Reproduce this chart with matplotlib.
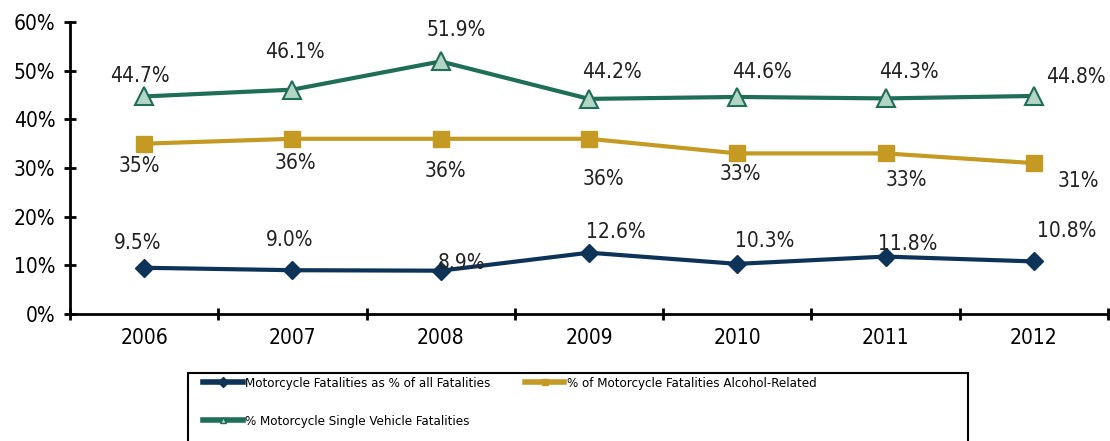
import numpy as np
import matplotlib
matplotlib.use("Agg")
import matplotlib.pyplot as plt
from matplotlib.patches import Rectangle
from matplotlib.lines import Line2D

years = ["2006", "2007", "2008", "2009", "2010", "2011", "2012"]
share_all = [9.5, 9.0, 8.9, 12.6, 10.3, 11.8, 10.8]
alcohol = [35, 36, 36, 36, 33, 33, 31]
single_vehicle = [44.7, 46.1, 51.9, 44.2, 44.6, 44.3, 44.8]

share_labels = ["9.5%", "9.0%", "8.9%", "12.6%", "10.3%", "11.8%", "10.8%"]
alcohol_labels = ["35%", "36%", "36%", "36%", "33%", "33%", "31%"]
single_labels = ["44.7%", "46.1%", "51.9%", "44.2%", "44.6%", "44.3%", "44.8%"]

# label offsets in pixels (dx, dy), dy positive = up
share_off = [(-7, 25), (-3, 30), (21, 8), (27, 21), (27, 23), (22, 13), (33, 30)]
alcohol_off = [(-5, -22), (3, -24), (5, -32), (14, -40), (3, -21), (21, -27), (45, -18)]
single_off = [(-4, 20), (2, 38), (16, 31), (23, 27), (25, 25), (23, 26), (42, 19)]

plt.rcParams["font.family"] = ["DejaVu Sans"]
plt.rcParams["font.stretch"] = "condensed"

navy = "#0D3458"
gold = "#C49A22"
green = "#1F6E58"
tri_fill = "#B3D5C6"

fig = plt.figure(figsize=(11.1, 4.41), dpi=100)
ax = fig.add_axes([70 / 1110, 1 - 314 / 441, (1108 - 70) / 1110, (314 - 22) / 441])

x = np.arange(len(years))

ax.plot(x, share_all, color=navy, lw=3, marker="D", ms=9, mfc=navy, mec=navy,
        label="Motorcycle Fatalities as % of all Fatalities")
ax.plot(x, alcohol, color=gold, lw=3, marker="s", ms=12, mfc=gold, mec=gold,
        label="% of Motorcycle Fatalities Alcohol-Related")
ax.plot(x, single_vehicle, color=green, lw=3, marker="^", ms=13, mfc=tri_fill,
        mec=green, mew=1.5, label="% Motorcycle Single Vehicle Fatalities")

for vals, labs, offs in [(share_all, share_labels, share_off),
                         (alcohol, alcohol_labels, alcohol_off),
                         (single_vehicle, single_labels, single_off)]:
    for xi, v, lab, (dx, dy) in zip(x, vals, labs, offs):
        ax.annotate(lab, (xi, v), xytext=(dx, dy), textcoords="offset pixels",
                    ha="center", va="center", fontsize=15, color="#222222")

ax.set_xlim(-0.5, 6.5)
ax.set_ylim(0, 60)
ax.set_yticks(np.arange(0, 61, 10))
ax.set_yticklabels([f"{v}%" for v in range(0, 61, 10)])
ax.set_xticks(np.arange(-0.5, 7, 1))
ax.set_xticklabels([])
ax.set_xticks(x, minor=True)
ax.set_xticklabels(years, minor=True)
ax.tick_params(axis="x", which="minor", length=0, labelsize=15, pad=10)
ax.tick_params(axis="x", which="major", direction="inout", length=9, width=2)
ax.tick_params(axis="y", direction="inout", length=9, width=2, labelsize=15, pad=6)

for side in ["top", "right"]:
    ax.spines[side].set_visible(False)
for side in ["left", "bottom"]:
    ax.spines[side].set_linewidth(2)

handles, labels = ax.get_legend_handles_labels()
small = []
for h in handles:
    small.append(Line2D([], [], color=h.get_color(), lw=4, marker=h.get_marker(), ms=5,
                        mfc=h.get_markerfacecolor(), mec=h.get_markeredgecolor()))
order = [0, 2, 1]
fig.legend([small[i] for i in order], [labels[i] for i in order], loc="upper left",
           bbox_to_anchor=(203 / 1110, 1 - 377 / 441),
           ncol=2, frameon=False, fontsize=9.5, borderpad=0,
           handlelength=3.0, handletextpad=0.2, labelspacing=1.9,
           columnspacing=2.6, borderaxespad=0)

fig.patches.append(Rectangle((188 / 1110, 1 - 450 / 441), (968 - 188) / 1110, (450 - 373) / 441,
                             transform=fig.transFigure, fill=False, ec="black", lw=1.5))

fig.savefig("out.png", dpi=100)
